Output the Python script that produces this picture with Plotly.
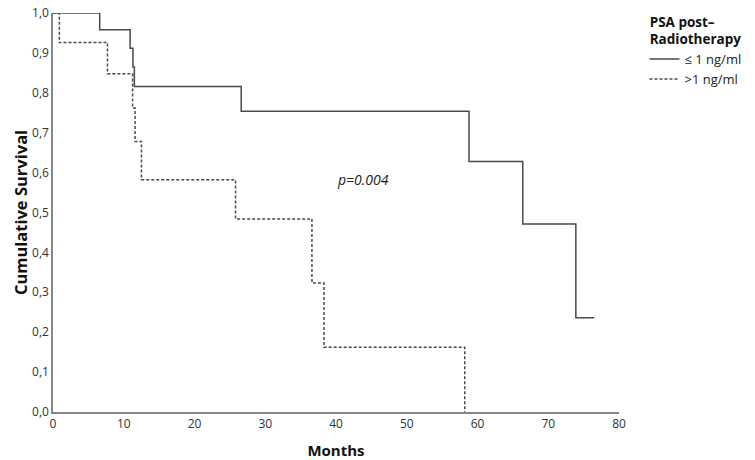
import plotly.graph_objects as go

# Kaplan-Meier step data
low_months = [0, 6.6, 10.9, 11.3, 11.5, 26.6, 58.8, 66.4, 73.9, 76.5]
low_surv = [1.0, 0.958, 0.912, 0.865, 0.816, 0.754, 0.628, 0.471, 0.236, 0.236]

high_months = [0, 0.9, 7.7, 11.25, 11.6, 12.5, 25.8, 36.6, 38.3, 58.2]
high_surv = [1.0, 0.926, 0.848, 0.762, 0.678, 0.582, 0.484, 0.323, 0.162, 0.0]

group_names = ["≤ 1 ng/ml", ">1 ng/ml"]
legend_title = "PSA post–<br>Radiotherapy"
x_ticks = [0, 10, 20, 30, 40, 50, 60, 70, 80]
y_ticks = [0.0, 0.1, 0.2, 0.3, 0.4, 0.5, 0.6, 0.7, 0.8, 0.9, 1.0]
p_text = "p=0.004"

FONT = "Open Sans, DejaVu Sans, sans-serif"
LINE = "#4a4a4a"

fig = go.Figure()
fig.add_trace(go.Scatter(x=low_months, y=low_surv, mode="lines", line_shape="hv",
                         name=group_names[0], line=dict(color=LINE, width=1.5),
                         cliponaxis=False))
fig.add_trace(go.Scatter(x=high_months, y=high_surv, mode="lines", line_shape="hv",
                         name=group_names[1], line=dict(color=LINE, width=1.5, dash="3px,2px"),
                         cliponaxis=False))

fig.add_annotation(x=43.8, y=0.582, text=f"<i>{p_text}</i>", showarrow=False,
                   font=dict(family=FONT, size=14, color="#222"))

fig.update_layout(
    width=755, height=460,
    margin=dict(l=53, r=136, t=9, b=48),
    paper_bgcolor="white", plot_bgcolor="white",
    separators=",.",
    font=dict(family=FONT, size=12, color="#333"),
    showlegend=True,
    legend=dict(
        title=dict(text=f"<b>{legend_title}</b>", font=dict(family=FONT, size=13.5, color="#111"),
                   side="top center"),
        x=1.045, y=1.01, xanchor="left", yanchor="top",
        font=dict(family=FONT, size=13, color="#222"),
        itemwidth=30, tracegroupgap=0, bgcolor="rgba(0,0,0,0)",
    ),
    xaxis=dict(range=[0, 80], tickvals=x_ticks, showgrid=False, zeroline=False,
               showline=True, linecolor="#888", linewidth=1.5, ticks="", automargin=False,
               tickfont=dict(family=FONT, size=12, color="#333"),
               title=dict(text="<b>Months</b>", font=dict(family=FONT, size=15, color="#111"),
                          standoff=15)),
    yaxis=dict(range=[-0.0001, 1.0001], tickvals=y_ticks, tickformat=".1f", showgrid=False,
               zeroline=False, showline=True, linecolor="#888", linewidth=1.5, ticks="",
               automargin=False, ticklabeloverflow="allow",
               tickfont=dict(family=FONT, size=12, color="#333"),
               title=dict(text="<b>Cumulative Survival</b>", font=dict(family=FONT, size=16.5, color="#111"),
                          standoff=0)),
)

fig.write_html("out.html", config={"displayModeBar": False},
               post_script="document.body.style.margin='0';")
